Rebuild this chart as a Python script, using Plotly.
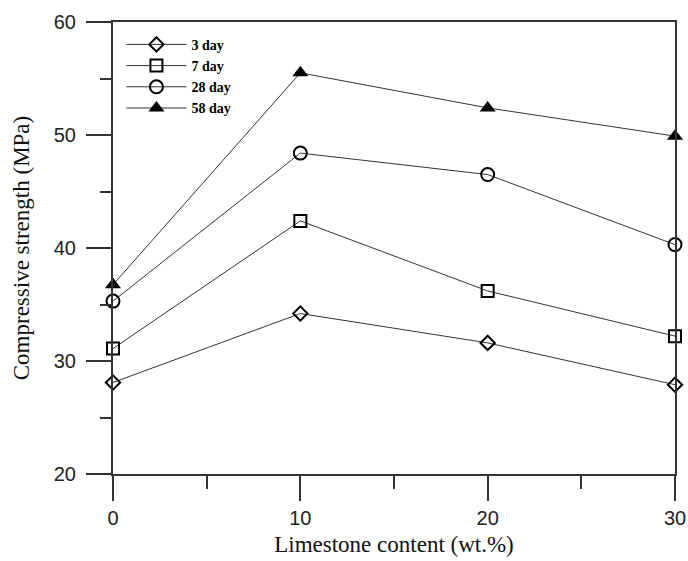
import plotly.graph_objects as go

limestone = [0, 10, 20, 30]
series_names = ["3 day", "7 day", "28 day", "58 day"]
day3 = [28.1, 34.2, 31.6, 27.9]
day7 = [31.1, 42.4, 36.2, 32.2]
day28 = [35.3, 48.4, 46.5, 40.3]
day58 = [36.75, 55.5, 52.4, 49.9]

symbols = ["diamond-open", "square-open", "circle-open", "triangle-up"]
sizes = [11, 12, 13, 14]

fig = go.Figure()
for name, vals, sym, sz in zip(series_names, [day3, day7, day28, day58], symbols, sizes):
    fig.add_trace(go.Scatter(
        x=limestone, y=vals, name=name, mode="lines+markers",
        line=dict(color="#333333", width=1),
        marker=dict(symbol=sym, size=sz, color="black",
                    line=dict(color="black", width=2 if "open" in sym else 0)),
        cliponaxis=False,
    ))

axis_common = dict(
    showline=True, linecolor="#333333", linewidth=2, mirror=True,
    ticks="outside", ticklen=25, tickwidth=1.5, tickcolor="#333333",
    showgrid=False, zeroline=False, automargin=False,
    tickfont=dict(family="Liberation Sans, Arial", size=20, color="#222222"),
)

fig.update_xaxes(
    range=[0, 30], tickvals=[0, 10, 20, 30], ticktext=["0", "10", "20", "30"],
    minor=dict(ticks="outside", ticklen=13, dtick=5, tickcolor="#333333", tickwidth=1.5),
    title=dict(text="Limestone content (wt.%)", standoff=8,
               font=dict(family="Liberation Serif, Times New Roman", size=23, color="#111111")),
    **axis_common,
)
fig.update_yaxes(
    range=[20, 60], tickvals=[20, 30, 40, 50, 60], ticktext=["20", "30", "40", "50", "60"],
    minor=dict(ticks="outside", ticklen=11, dtick=5, tickcolor="#333333", tickwidth=1.5),
    title=dict(text="Compressive strength (MPa)", standoff=18,
               font=dict(family="Liberation Serif, Times New Roman", size=23, color="#111111")),
    ticklabelstandoff=6,
    **axis_common,
)

fig.update_layout(
    width=688, height=561,
    margin=dict(l=113, r=13, t=22, b=87),
    plot_bgcolor="white", paper_bgcolor="white",
    showlegend=True,
    legend=dict(
        x=0.015, y=0.985, xanchor="left", yanchor="top",
        bgcolor="rgba(0,0,0,0)", borderwidth=0,
        font=dict(family="Liberation Serif, Times New Roman", size=14, color="black", weight="bold"),
        tracegroupgap=0, itemwidth=60,
    ),
)

fig.write_html("out.html", config={"displayModeBar": False},
               post_script="document.body.style.margin='0';document.body.style.overflow='hidden';")
